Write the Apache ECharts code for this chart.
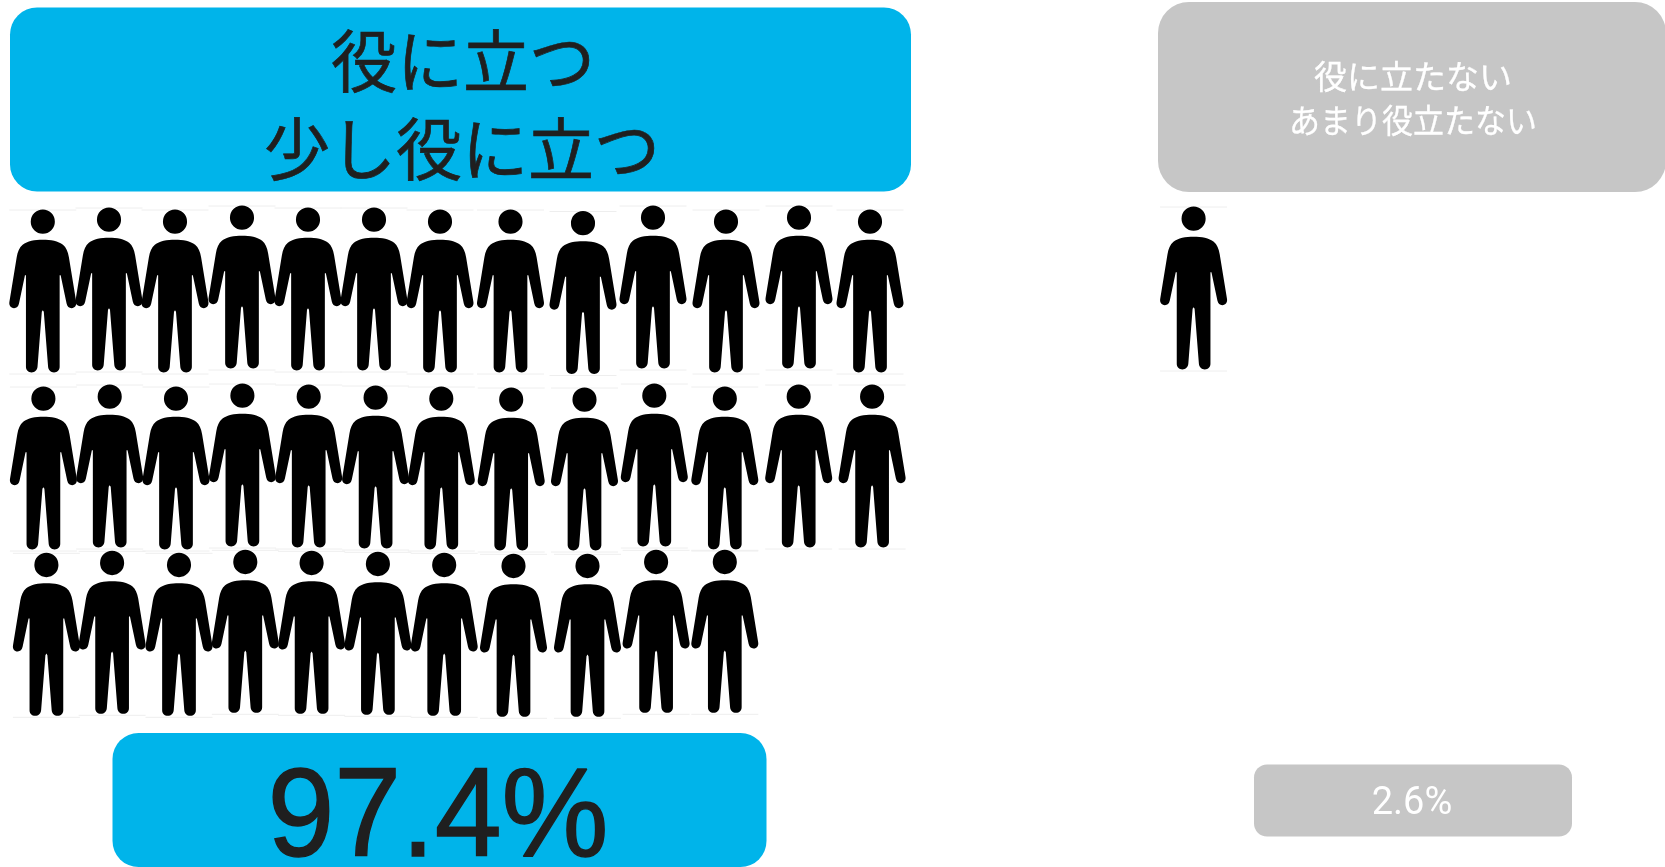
<!DOCTYPE html>
<html lang="ja">
<head>
<meta charset="utf-8">
<title>役に立つ / 役に立たない</title>
<style>html,body{margin:0;padding:0;background:#fff}#chart{width:1665px;height:867px}</style>
<script src="https://cdn.jsdelivr.net/npm/echarts@6/dist/echarts.min.js"></script>
</head>
<body>
<div id="chart"></div>
<script>
// Survey result: one person icon for each answer group member
const groupNames = ['役に立つ\n少し役に立つ', '役に立たない\nあまり役立たない'];
const shareLabels = ['97.4%', '2.6%'];
const personCounts = [37, 1];
const personsPerRow = 13;

// Hand-placed look of the icon rows: per-icon offsets in pixels from the even grid
const rowShiftX = [
  [0, -.3, -.8, -.3, -.8, -1.3, -1.8, 2.2, 8.2, 11.7, 18.2, 24.7, 29.2],
  [.6, .4, .2, .1, -.1, .3, -.5, 2.9, 9.7, 13, 17, 24.4, 31.3],
  [3.6, 2.8, 3.2, 3, 2.8, 2.6, 2.4, 5.2, 12.7, 14.8, 17]
];
const rowShiftY = [
  [1, -1, 1, -3, -1, -1, 1, 1, 2.5, -3, 1, -3, 1],
  [6, 4, 6, 3, 4, 5, 6, 7, 7, 3, 6, 4, 4],
  [.3, -1.7, .3, -2.7, -1.7, -.7, .3, 1.3, 1.3, -2.7, -2.7]
];
const soloShiftY = -2;

const BLUE = '#00b4ea';
const GREY = '#c6c6c6';
const INK = '#1f1f1f';
const JP = '"Noto Sans CJK JP", "Noto Sans", sans-serif';
const LATIN = '"Liberation Sans", Arial, sans-serif';

// Person icon, drawn around a vertical centre line
const personPath =
  'M0 0 A36.5 36.5 0 1 1 -0.01 0 Z ' +
  'M0 91 C24 91 47 95 61 106 C71 114 76 127 79 143 L101 277 C103 288 97 296 87 296 C79 296 74 291 72 282 ' +
  'L54 197 L51 197 L51 472 C51 482 44 489 34 489 C24 489 17 482 16 472 L3 307 L0 302 ' +
  'L-3 307 L-16 472 C-17 482 -24 489 -34 489 C-44 489 -51 482 -51 472 L-51 197 L-54 197 ' +
  'L-72 282 C-74 291 -79 296 -87 296 C-97 296 -103 288 -101 277 L-79 143 C-76 127 -71 114 -61 106 C-47 95 -24 91 0 91 Z';

const ICON_W = 67, ICON_H = 163;

function renderPerson(params, api) {
  const c = api.coord([api.value(0), api.value(1)]);
  const x = c[0] + api.value(2);
  const y = c[1] + api.value(3);
  const left = x - ICON_W / 2, top = y - ICON_H / 2;
  const edge = { stroke: '#eeeeee', lineWidth: 1 };
  return {
    type: 'group',
    children: [
      { type: 'line', shape: { x1: left, y1: top + .5, x2: left + ICON_W, y2: top + .5 }, style: edge },
      { type: 'line', shape: { x1: left, y1: top + ICON_H + 1.5, x2: left + ICON_W, y2: top + ICON_H + 1.5 }, style: edge },
      { type: 'path', shape: { pathData: personPath, layout: 'cover', x: left, y: top, width: ICON_W, height: ICON_H }, style: { fill: '#000000' } }
    ]
  };
}

function personsFor(count, perRow, nudge) {
  const out = [];
  for (let i = 0; i < count; i++) {
    const row = Math.floor(i / perRow), col = i % perRow;
    out.push([col, row].concat(nudge(row, col)));
  }
  return out;
}

function panel(x, y, w, h, r, fill) {
  return { type: 'rect', shape: { x, y, width: w, height: h, r }, style: { fill }, silent: true };
}

function caption(text, cx, cy, font, fill, sx, sy, outline) {
  return {
    type: 'text', x: cx, y: cy, scaleX: sx || 1, scaleY: sy || 1, silent: true,
    style: { text, fill, font, align: 'center', verticalAlign: 'middle',
             stroke: outline ? fill : null, lineWidth: outline || 0 }
  };
}

const leftLines = groupNames[0].split('\n');
const rightLines = groupNames[1].split('\n');

const chart = echarts.init(document.getElementById('chart'), null, { renderer: 'canvas' });
chart.setOption({
  backgroundColor: '#ffffff',
  animation: false,
  grid: [
    { left: 9.55, top: 204, width: 864.5, height: 516 },
    { left: 1160.35, top: 204, width: 66.5, height: 516 }
  ],
  xAxis: [
    { type: 'value', gridIndex: 0, min: -0.5, max: 12.5, show: false },
    { type: 'value', gridIndex: 1, min: -0.5, max: 0.5, show: false }
  ],
  yAxis: [
    { type: 'value', gridIndex: 0, min: -0.5, max: 2.5, inverse: true, show: false },
    { type: 'value', gridIndex: 1, min: -0.5, max: 2.5, inverse: true, show: false }
  ],
  series: [
    { type: 'custom', name: leftLines[0], xAxisIndex: 0, yAxisIndex: 0, silent: true, clip: false,
      renderItem: renderPerson,
      data: personsFor(personCounts[0], personsPerRow, (r, c) => [rowShiftX[r][c], rowShiftY[r][c]]) },
    { type: 'custom', name: rightLines[0], xAxisIndex: 1, yAxisIndex: 1, silent: true, clip: false,
      renderItem: renderPerson,
      data: personsFor(personCounts[1], personsPerRow, () => [0, soloShiftY]) }
  ],
  graphic: [
    panel(10, 7.5, 901, 184, 27, BLUE),
    panel(1158, 2, 508, 190, 31, GREY),
    panel(112.5, 733, 654, 134, 26, BLUE),
    panel(1254, 764.5, 318, 72, 13, GREY),
    caption(leftLines[0], 463, 61, '66px ' + JP, INK, 1, 1.03, 0.7),
    caption(leftLines[1], 462, 149, '66px ' + JP, INK, 1, 1.03, 0.7),
    caption(rightLines[0], 1413, 76, '33px ' + JP, '#ffffff', 1, 1, 0.3),
    caption(rightLines[1], 1413, 120, '31px ' + JP, '#ffffff', 1, 1.08, 0.3),
    caption(shareLabels[0], 438, 821, '126px ' + LATIN, INK, 0.955, 1, 1.4),
    caption(shareLabels[1], 1412, 804, '38px Roboto, sans-serif', '#ffffff')
  ]
});
</script>
</body>
</html>
